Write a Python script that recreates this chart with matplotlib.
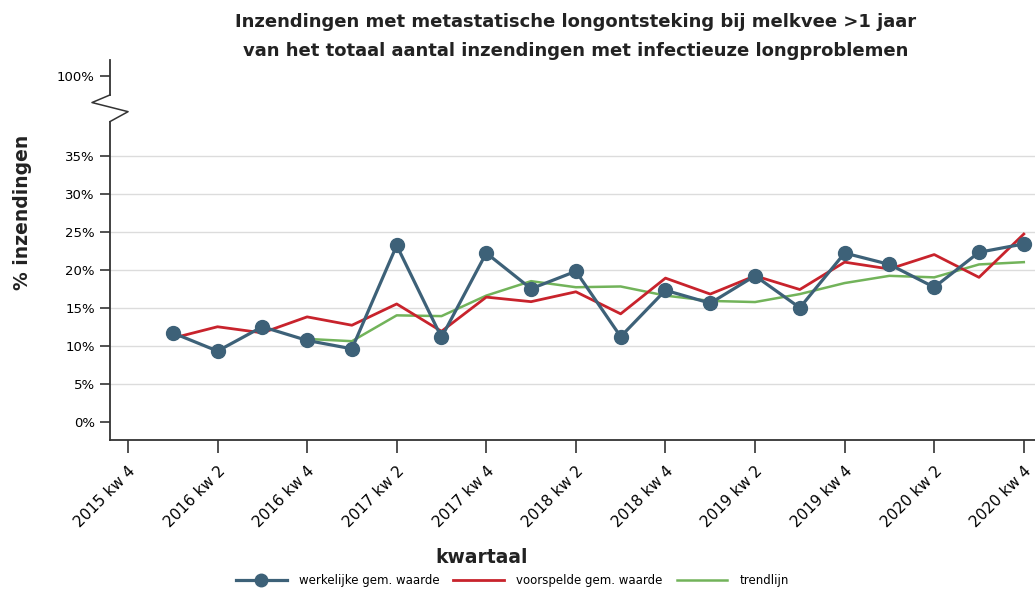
import numpy as np
import matplotlib
matplotlib.use('Agg')
import matplotlib.pyplot as plt
from matplotlib.lines import Line2D

plt.rcParams['font.family'] = ['DejaVu Sans']

# quarters: 2015 kw 4 .. 2020 kw 4 (tick every 2 quarters)
quarters = ['2015 kw 4', '2016 kw 1', '2016 kw 2', '2016 kw 3', '2016 kw 4',
            '2017 kw 1', '2017 kw 2', '2017 kw 3', '2017 kw 4',
            '2018 kw 1', '2018 kw 2', '2018 kw 3', '2018 kw 4',
            '2019 kw 1', '2019 kw 2', '2019 kw 3', '2019 kw 4',
            '2020 kw 1', '2020 kw 2', '2020 kw 3', '2020 kw 4']

werkelijk = [11.7, 9.3, 12.5, 10.7, 9.6, 23.2, 11.1, 22.2, 17.5, 19.8,
             11.2, 17.3, 15.6, 19.2, 15.0, 22.2, 20.7, 17.7, 22.3, 23.4]
voorspeld = [11.0, 12.5, 11.7, 13.8, 12.7, 15.5, 11.9, 16.4, 15.8, 17.1,
             14.2, 18.9, 16.8, 19.2, 17.4, 21.0, 20.1, 22.0, 19.0, 24.7]
trend = [10.9, 10.6, 14.0, 13.9, 16.6, 18.5, 17.7, 17.8, 16.6, 15.9,
         15.75, 16.8, 18.25, 19.2, 19.0, 20.7, 21.0]

ytick_vals = [0, 5, 10, 15, 20, 25, 30, 35]
ytick_labels = ['0%', '5%', '10%', '15%', '20%', '25%', '30%', '35%']
y_break_pos = 45.5  # where the 100% tick sits after the axis break

blue = '#3d6178'
red = '#c8232c'
green = '#72b35a'
dark = '#333333'

fig = plt.figure(figsize=(10.35, 5.91), dpi=100)
ax = fig.add_axes([0.1063, 0.2555, 0.8937, 0.643])

x = np.arange(len(quarters))
ax.plot(x[1:], werkelijk, color=blue, lw=2.3, marker='o', ms=10, zorder=4)
ax.plot(x[1:], voorspeld, color=red, lw=2.0, zorder=3)
ax.plot(x[4:], trend, color=green, lw=1.8, zorder=2)

ax.set_xlim(-0.4, 20.25)
ax.set_ylim(-2.4, 47.6)

for v in ytick_vals[1:]:
    ax.axhline(v, color='#dcdcdc', lw=1.0, zorder=0)

ax.set_yticks(ytick_vals + [y_break_pos])
ax.set_yticklabels(ytick_labels + ['100%'], fontsize=9.5)
ax.set_xticks(x[::2])
ax.set_xticklabels(quarters[::2], rotation=45, ha='right', rotation_mode='anchor', fontsize=11)
ax.tick_params(axis='y', length=7, width=1.2, color=dark, pad=4)
ax.tick_params(axis='x', length=9, width=1.2, color=dark, pad=8)

for s in ['top', 'right', 'left']:
    ax.spines[s].set_visible(False)
ax.spines['bottom'].set_color(dark)
ax.spines['bottom'].set_linewidth(1.3)

# left axis with break
tr = ax.get_yaxis_transform()
ax.plot([0, 0], [-2.4, 39.5], color=dark, lw=1.3, transform=tr, clip_on=False)
ax.plot([0, 0], [43.0, 47.6], color=dark, lw=1.3, transform=tr, clip_on=False)
ax.plot([0, -0.0195, 0.0195, 0], [43.0, 42.0, 40.8, 39.5], color=dark, lw=1.1,
        transform=tr, clip_on=False)

fig.text(0.556, 0.962, 'Inzendingen met metastatische longontsteking bij melkvee >1 jaar',
         ha='center', va='center', fontsize=13, fontweight='bold', color='#222222')
fig.text(0.556, 0.913, 'van het totaal aantal inzendingen met infectieuze longproblemen',
         ha='center', va='center', fontsize=13, fontweight='bold', color='#222222')
fig.text(0.022, 0.64, '% inzendingen', rotation=90, ha='center', va='center',
         fontsize=13.5, fontweight='bold', color='#222222')
fig.text(0.465, 0.056, 'kwartaal', ha='center', va='center',
         fontsize=13.5, fontweight='bold', color='#222222')

handles = [Line2D([], [], color=blue, lw=2.3, marker='o', ms=9),
           Line2D([], [], color=red, lw=2.0),
           Line2D([], [], color=green, lw=1.8)]
fig.legend(handles, ['werkelijke gem. waarde', 'voorspelde gem. waarde', 'trendlijn'],
           loc='center', bbox_to_anchor=(0.495, 0.018), ncol=3, frameon=False,
           fontsize=8.5, handlelength=4.3, columnspacing=1.2, handletextpad=1.0)

fig.savefig('out.png', dpi=100)
